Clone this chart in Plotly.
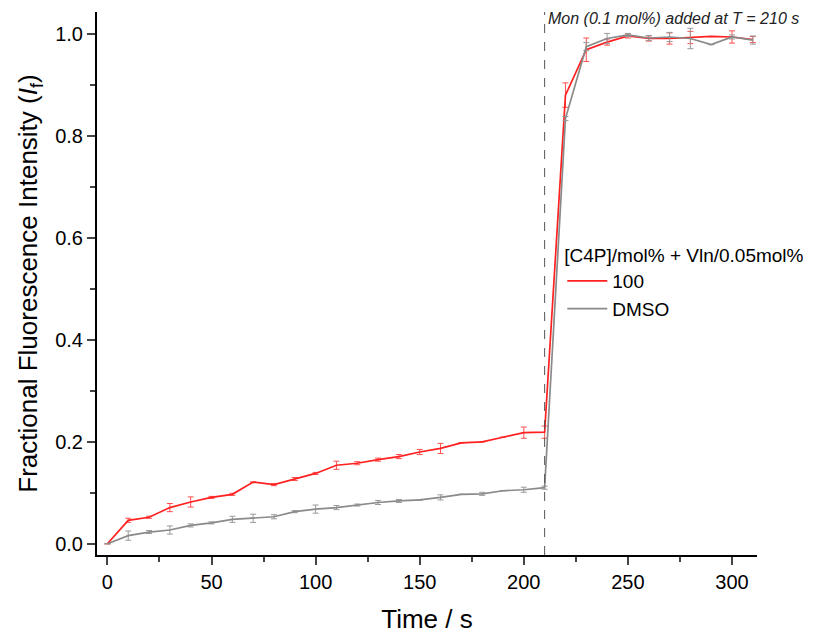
import plotly.graph_objects as go

time = [0, 10, 20, 30, 40, 50, 60, 70, 80, 90, 100, 110, 120, 130, 140, 150, 160, 170, 180, 190, 200, 210,
        220, 230, 240, 250, 260, 270, 280, 290, 300, 310]

red_vals = [0.0, 0.046, 0.052, 0.071, 0.082, 0.091, 0.097, 0.121, 0.116, 0.127, 0.138, 0.154, 0.158, 0.165,
            0.171, 0.180, 0.187, 0.198, 0.200, 0.209, 0.218, 0.219,
            0.880, 0.969, 0.984, 0.996, 0.991, 0.991, 0.993, 0.995, 0.994, 0.989]
red_err = [0.0, 0.004, 0.002, 0.008, 0.010, 0.002, 0.002, 0.0, 0.002, 0.003, 0.002, 0.008, 0.003, 0.003,
           0.004, 0.005, 0.010, 0.0, 0.0, 0.0, 0.011, 0.012,
           0.024, 0.023, 0.006, 0.004, 0.005, 0.011, 0.012, 0.0, 0.012, 0.006]

gray_vals = [0.0, 0.016, 0.023, 0.027, 0.036, 0.041, 0.048, 0.050, 0.053, 0.063, 0.068, 0.071, 0.076, 0.081,
             0.084, 0.086, 0.091, 0.097, 0.098, 0.104, 0.106, 0.110,
             0.834, 0.975, 0.991, 0.998, 0.992, 0.994, 0.991, 0.979, 0.994, 0.988]
gray_err = [0.0, 0.009, 0.003, 0.008, 0.003, 0.002, 0.006, 0.008, 0.004, 0.002, 0.008, 0.004, 0.002, 0.004,
            0.003, 0.0, 0.005, 0.0, 0.003, 0.0, 0.005, 0.003,
            0.004, 0.008, 0.010, 0.003, 0.005, 0.009, 0.020, 0.0, 0.004, 0.008]

x_ticks = [0, 50, 100, 150, 200, 250, 300]
y_ticks = [0.0, 0.2, 0.4, 0.6, 0.8, 1.0]
addition_time = 210
legend_title = "[C4P]/mol% + Vln/0.05mol%"
series_names = ["100", "DMSO"]

FONT = "Liberation Sans, Arial, sans-serif"

fig = go.Figure()
fig.add_trace(go.Scatter(
    x=time, y=red_vals, mode="lines", name=series_names[0],
    line=dict(color="#ff2020", width=1.7),
    error_y=dict(type="data", array=red_err, visible=True, color="#ff5050", thickness=1, width=3),
))
fig.add_trace(go.Scatter(
    x=time, y=gray_vals, mode="lines", name=series_names[1],
    line=dict(color="#8a8a8a", width=1.7),
    error_y=dict(type="data", array=gray_err, visible=True, color="#9a9a9a", thickness=1, width=3),
))

fig.add_shape(type="line", x0=addition_time, x1=addition_time, xref="x", y0=0, y1=1, yref="paper",
              line=dict(color="#555555", width=1, dash="dash"))
fig.add_annotation(x=addition_time, xref="x", y=1, yref="paper", xanchor="left", yanchor="top",
                   xshift=1, yshift=4,
                   text="<i>Mon (0.1 mol%) added at T = 210 s</i>", showarrow=False,
                   font=dict(family=FONT, size=16, color="#222222"))

fig.update_layout(
    width=814, height=634,
    margin=dict(l=97, r=57, t=12, b=79, autoexpand=False),
    paper_bgcolor="white", plot_bgcolor="white",
    font=dict(family=FONT, color="black"),
    showlegend=True,
    legend=dict(x=0.705, y=0.585, xanchor="left", yanchor="top",
                title=dict(text=legend_title, font=dict(size=19, family=FONT)),
                font=dict(size=19, family=FONT), bgcolor="rgba(0,0,0,0)",
                tracegroupgap=0, itemwidth=40),
)
fig.update_xaxes(
    range=[-5, 312], tickvals=x_ticks, ticks="outside", ticklen=8, tickwidth=1.5, automargin=False,
    showline=True, linecolor="black", linewidth=2, showgrid=False, zeroline=False,
    tickfont=dict(size=20, family=FONT),
    minor=dict(dtick=25, tick0=0, ticks="outside", ticklen=5, tickwidth=1.5, showgrid=False),
    title=dict(text="Time / s", font=dict(size=26, family=FONT), standoff=20),
)
fig.update_yaxes(
    range=[-0.022, 1.043], tickvals=y_ticks, tickformat=".1f", ticks="outside", ticklen=8, tickwidth=1.5,
    automargin=False,
    showline=True, linecolor="black", linewidth=2, showgrid=False, zeroline=False,
    tickfont=dict(size=20, family=FONT),
    minor=dict(dtick=0.1, tick0=0, ticks="outside", ticklen=5, tickwidth=1.5, showgrid=False),
    title=dict(text="Fractional Fluorescence Intensity (<i>I</i><sub>f</sub>)", font=dict(size=26, family=FONT), standoff=10),
)

fig.write_html("out.html")
